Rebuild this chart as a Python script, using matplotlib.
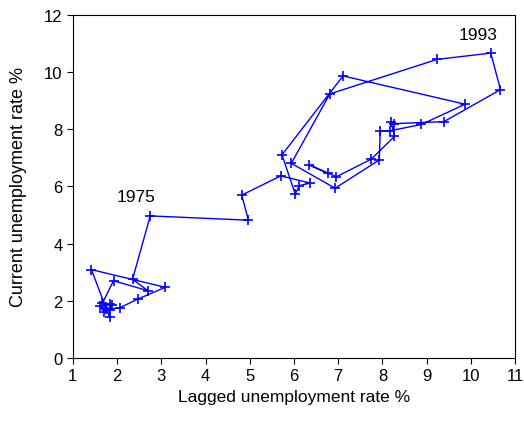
import numpy as np
import matplotlib
matplotlib.use("Agg")
import matplotlib.pyplot as plt

plt.rcParams['font.family'] = ['Liberation Sans', 'DejaVu Sans']

# annual unemployment rate %, 1959-2002
years = np.arange(1959, 2003)
rate = np.array([1.83, 1.42, 3.09, 2.47, 2.06, 1.75, 1.70, 1.62, 1.83, 1.88,
                 1.85, 1.67, 1.92, 2.70, 2.35, 2.75, 4.97, 4.82, 5.70, 6.37,
                 6.12, 6.03, 5.73, 7.11, 9.87, 8.88, 8.17, 7.95, 7.93, 6.93,
                 5.94, 6.81, 9.24, 10.45, 10.67, 9.39, 8.27, 8.20, 8.27, 7.75,
                 6.96, 6.34, 6.76, 6.46])

lagged = rate[:-1]
current = rate[1:]

fig = plt.figure(figsize=(5.24, 4.35), dpi=100)
ax = fig.add_axes([0.139, 0.175, 0.844, 0.788])

ax.plot(lagged, current, color='#0000ff', lw=1.0, marker='+', ms=7, mew=1.2)

ax.text(2.43, 5.66, '1975', fontsize=12.5, ha='center', va='center')
ax.text(10.16, 11.33, '1993', fontsize=12.5, ha='center', va='center')

ax.set_xlim(1, 11)
ax.set_ylim(0, 12)
ax.set_xticks(range(1, 12))
ax.set_yticks(range(0, 13, 2))
ax.tick_params(direction='out', length=4, labelsize=12)

ax.set_xlabel('Lagged unemployment rate %', fontsize=12.5, labelpad=4)
ax.set_ylabel('Current unemployment rate %', fontsize=13, labelpad=12)

plt.savefig('out.png', dpi=100)
